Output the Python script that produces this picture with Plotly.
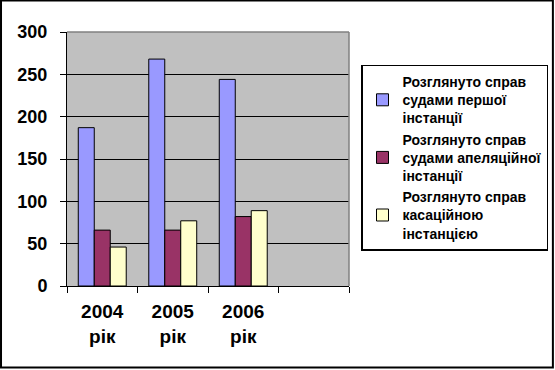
import plotly.graph_objects as go

categories = ["2004<br>рік", "2005<br>рік", "2006<br>рік", " "]
series_names = [
    "Розглянуто справ<br>судами першої<br>інстанції",
    "Розглянуто справ<br>судами апеляційної<br>інстанції",
    "Розглянуто справ<br>касаційною<br>інстанцією",
]
first_instance = [187, 268, 244]
appeal_instance = [66, 66, 82]
cassation_instance = [46, 77, 89]
colors = ["#9999FF", "#993366", "#FFFFCC"]
y_ticks = [0, 50, 100, 150, 200, 250, 300]

FONT = "Arial, 'Liberation Sans', sans-serif"

fig = go.Figure()
for name, vals, col in zip(series_names, [first_instance, appeal_instance, cassation_instance], colors):
    fig.add_trace(go.Bar(
        x=categories[:len(vals)], y=vals, name=name,
        marker=dict(color=col, line=dict(color="black", width=1)),
    ))

fig.update_layout(
    width=555, height=370,
    margin=dict(l=67, r=206, t=32, b=84, autoexpand=False),
    paper_bgcolor="white",
    plot_bgcolor="#C0C0C0",
    barmode="group", bargap=0.32, bargroupgap=0,
    font=dict(family=FONT, color="black"),
    showlegend=True,
    legend=dict(
        x=1.0426, y=0.872, xanchor="left", yanchor="top",
        bgcolor="white", bordercolor="black", borderwidth=1.5,
        font=dict(family=FONT, size=14, color="black", weight="bold"),
        tracegroupgap=2,
    ),
    xaxis=dict(
        type="category", categoryorder="array", categoryarray=categories,
        range=[-0.5, 3.5], tickson="boundaries",
        ticks="outside", ticklen=6, tickcolor="black", tickwidth=1,
        showline=True, linecolor="black", linewidth=1,
        showgrid=False, automargin=False,
        tickfont=dict(family=FONT, size=19, color="black", weight="bold"),
        ticklabelstandoff=8,
    ),
    yaxis=dict(
        range=[0, 300], tickvals=y_ticks,
        ticks="outside", ticklen=6, tickcolor="black",
        showline=True, linecolor="black", linewidth=1,
        showgrid=True, gridcolor="black", gridwidth=1,
        zeroline=False, automargin=False,
        tickfont=dict(family=FONT, size=18, color="black", weight="bold"),
        ticklabelstandoff=9,
    ),
    shapes=[
        dict(type="line", xref="paper", yref="paper", x0=0, x1=1, y0=1, y1=1,
             line=dict(color="#808080", width=1.5), layer="above"),
        dict(type="line", xref="paper", yref="paper", x0=1, x1=1, y0=0, y1=1,
             line=dict(color="#808080", width=1.5), layer="above"),
        dict(type="rect", xref="paper", yref="paper",
             x0=-0.234, x1=1.723, y0=-0.321, y1=1.124,
             line=dict(color="black", width=2), layer="above"),
    ],
)

fig.write_html(
    "out.html",
    config={"displayModeBar": False},
    post_script="document.body.style.margin='0';document.body.style.overflow='hidden';",
)
